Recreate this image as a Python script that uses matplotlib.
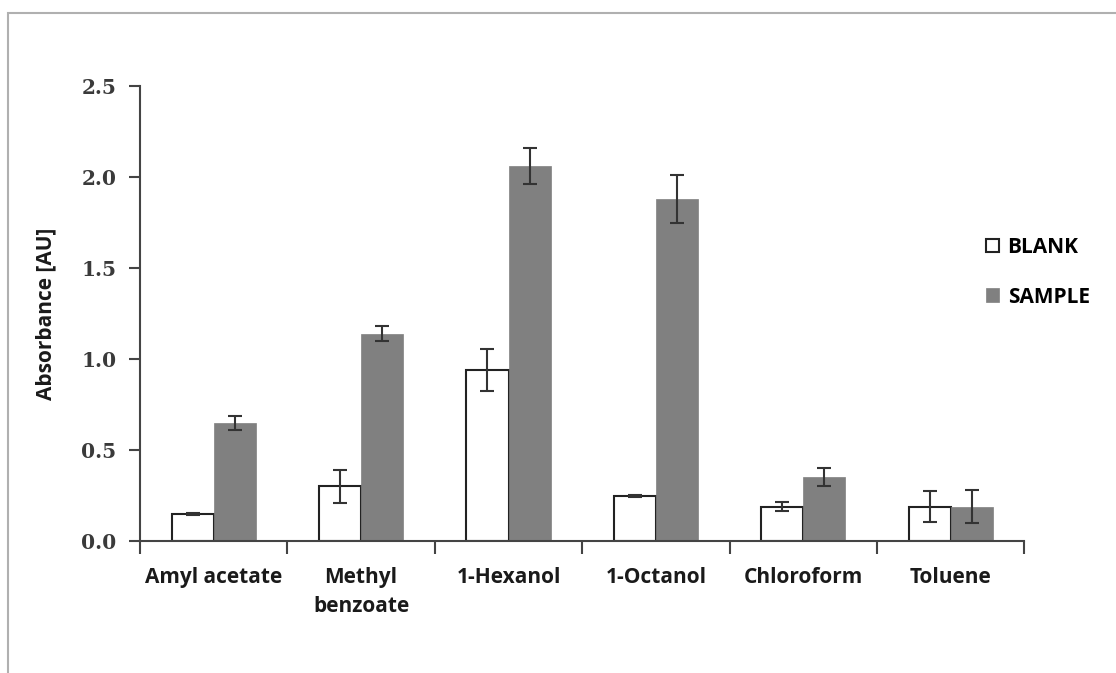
import numpy as np
import matplotlib.pyplot as plt
from matplotlib.patches import Rectangle

solvents = ['Amyl acetate', 'Methyl\nbenzoate', '1-Hexanol', '1-Octanol',
            'Chloroform', 'Toluene']
blank = [0.15, 0.30, 0.94, 0.25, 0.19, 0.19]
blank_err = [0.005, 0.09, 0.115, 0.005, 0.025, 0.085]
sample = [0.65, 1.14, 2.06, 1.88, 0.35, 0.19]
sample_err = [0.04, 0.04, 0.10, 0.13, 0.05, 0.09]

fig = plt.figure(figsize=(11.16, 6.73), dpi=100)
ax = fig.add_axes([0.1254, 0.196, 0.7926, 0.676])

# light grey frame around the whole chart area
fig.patches.append(Rectangle((8 / 1116, -0.1), 1.2, 1 - 13 / 673 + 0.1,
                             transform=fig.transFigure, fill=False,
                             edgecolor='#b0b0b0', linewidth=1.5))

x = np.arange(len(solvents))
w = 0.285
ekw = dict(ecolor='#333333', elinewidth=1.5, capsize=5, capthick=1.5)

ax.bar(x - w / 2, blank, w, yerr=blank_err, color='white',
       edgecolor='#222222', linewidth=1.5, label='BLANK', error_kw=ekw)
ax.bar(x + w / 2, sample, w, yerr=sample_err, color='#808080',
       edgecolor='#808080', linewidth=0.5, label='SAMPLE', error_kw=ekw)

ax.set_xlim(-0.5, len(solvents) - 0.5)
ax.set_ylim(0, 2.5)
yt = np.arange(0, 2.51, 0.5)
ax.set_yticks(yt)
ax.set_yticklabels([f'{v:.1f}' for v in yt], family='DejaVu Serif',
                   fontweight='bold', fontsize=14.5, color='#3a3a3a')

# category separators as ticks on the x axis, labels at centres
ax.set_xticks(np.arange(-0.5, len(solvents)), minor=False)
ax.set_xticklabels([])
ax.set_xticks(x, minor=True)
ax.set_xticklabels(solvents, minor=True, family='Open Sans',
                   fontweight='bold', fontsize=15, color='#1a1a1a',
                   linespacing=1.5)
ax.tick_params(axis='x', which='major', direction='out', length=9,
               width=1.5, color='#444444')
ax.tick_params(axis='x', which='minor', length=0, pad=19)
ax.tick_params(axis='y', direction='out', length=8, width=1.5,
               color='#444444', pad=9)

for s in ['top', 'right']:
    ax.spines[s].set_visible(False)
for s in ['left', 'bottom']:
    ax.spines[s].set_linewidth(1.5)
    ax.spines[s].set_color('#444444')

ax.set_ylabel('Absorbance [AU]', family='Open Sans', fontweight='bold',
              fontsize=15, color='#1a1a1a', labelpad=18)

ax.legend(loc='upper left', bbox_to_anchor=(0.935, 0.71), frameon=False,
          prop={'family': 'Open Sans', 'weight': 'bold', 'size': 15},
          handlelength=0.65, handleheight=0.65, handletextpad=0.4,
          labelspacing=1.38)

fig.savefig('out.png', dpi=100)
